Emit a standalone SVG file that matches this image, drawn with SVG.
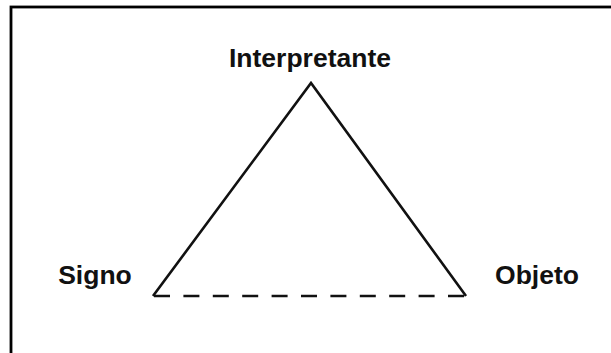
<svg xmlns="http://www.w3.org/2000/svg" width="611" height="353" viewBox="0 0 611 353">
<style>
.lbl{font-family:"Liberation Sans",Arial,sans-serif;font-weight:bold;font-size:26.5px;fill:#111;text-anchor:middle}
.edge{fill:none;stroke:#111;stroke-width:2.6}
</style>
<rect x="0" y="0" width="611" height="353" fill="#fff"/>
<rect x="11" y="7" width="620" height="360" fill="none" stroke="#000" stroke-width="2.8"/>
<g id="connectors">
<polyline class="edge" points="153,296 311,83 466,296" stroke-linejoin="miter"/>
<line class="edge" x1="154" y1="296" x2="467" y2="296" stroke-dasharray="16 13.4"/>
</g>
<g id="interpretante"><text class="lbl" x="310" y="67">Interpretante</text></g>
<g id="signo"><text class="lbl" x="95" y="284">Signo</text></g>
<g id="objeto"><text class="lbl" x="537" y="284">Objeto</text></g>
</svg>
